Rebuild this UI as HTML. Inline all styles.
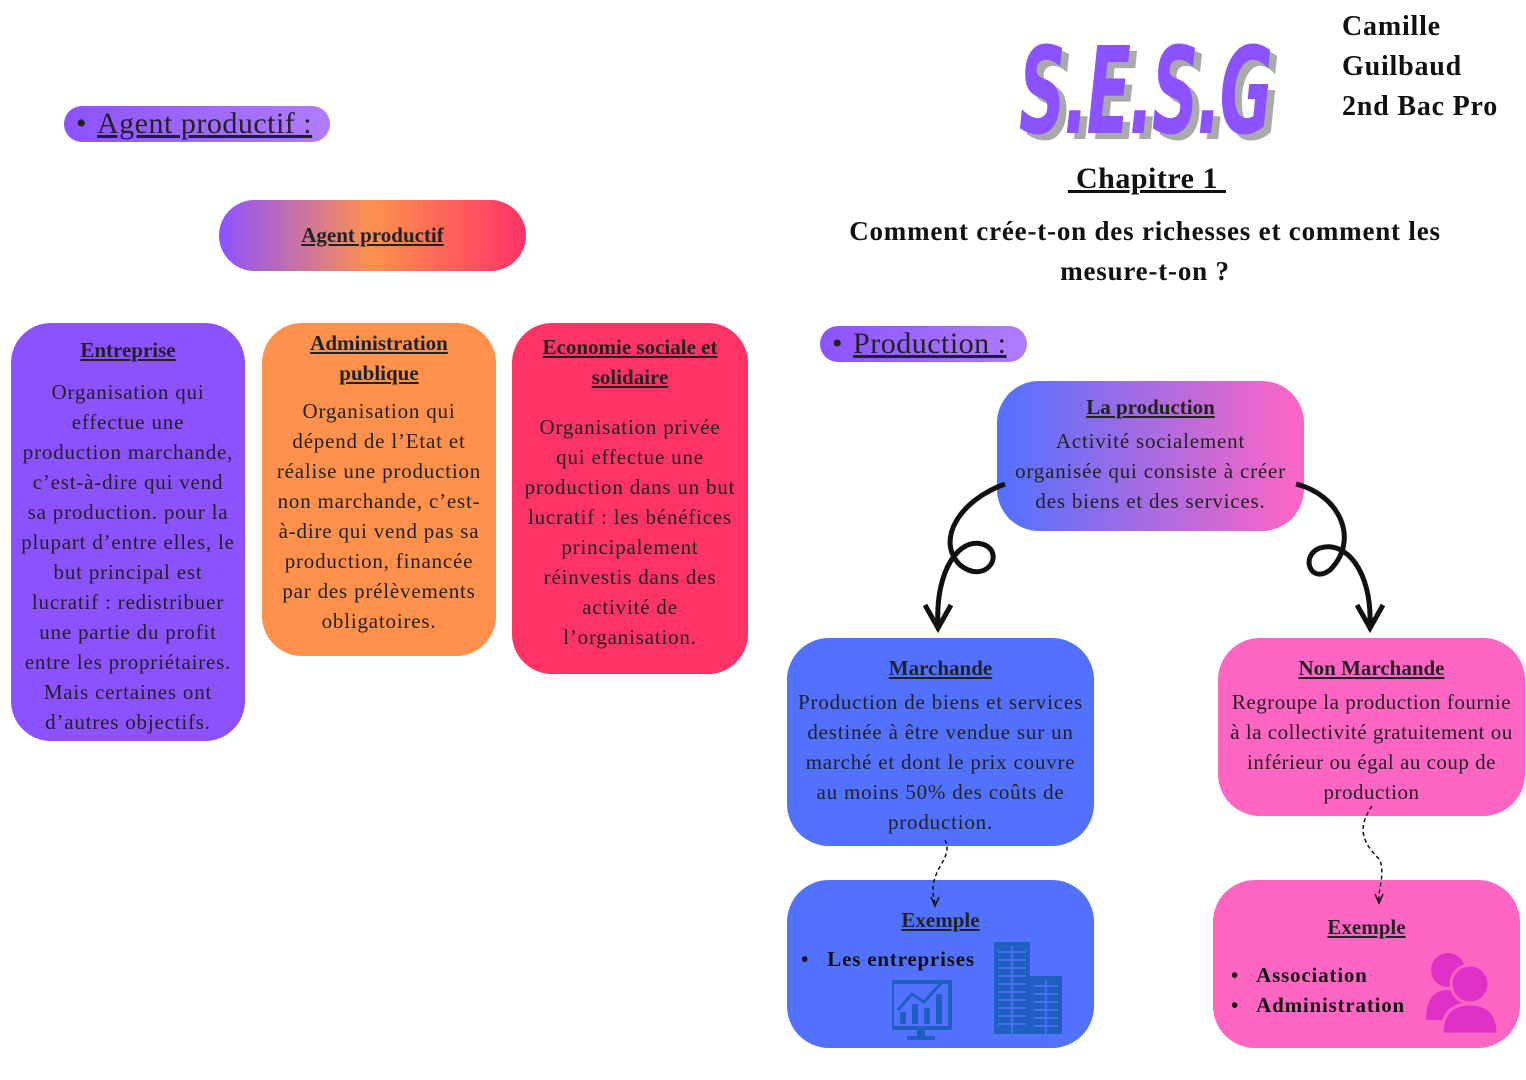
<!DOCTYPE html>
<html><head><meta charset="utf-8"><style>
body{margin:0;width:1526px;height:1080px;background:#fff;position:relative;overflow:hidden;font-family:"Liberation Serif",serif;color:#222}
.a{position:absolute}
.box{position:absolute;text-align:center;font-size:21px;line-height:30px;box-sizing:border-box;white-space:nowrap;letter-spacing:0.8px}
.t{font-weight:bold;text-decoration:underline;font-size:21px;letter-spacing:0}
.pill{position:absolute;border-radius:20px;background:linear-gradient(90deg,#8c52ff,#b07cff);font-size:30px;line-height:36px;padding-left:12px;letter-spacing:0.5px}
.pill u{margin-left:10px}
</style></head><body>
<div class="a" style="left:1026px;top:36px;font-family:'DejaVu Sans Condensed','Liberation Sans',sans-serif;font-weight:bold;font-style:italic;font-size:120px;line-height:125px;color:#aaa;letter-spacing:-3px;transform:scaleX(0.6);transform-origin:left">S.E.S.G</div>
<div class="a" style="left:1019px;top:30px;font-family:'DejaVu Sans Condensed','Liberation Sans',sans-serif;font-weight:bold;font-style:italic;font-size:120px;line-height:125px;color:#8c52ff;letter-spacing:-3px;transform:scaleX(0.6);transform-origin:left">S.E.S.G</div>
<div class="a" style="left:1342px;top:7px;font-weight:bold;font-size:28px;line-height:40px;color:#111;letter-spacing:0.8px">Camille<br>Guilbaud<br>2nd Bac Pro</div>
<div class="a" style="left:1068px;top:162px;font-weight:bold;font-size:30px;text-decoration:underline;color:#111;letter-spacing:0.5px">&nbsp;Chapitre 1&nbsp;</div>
<div class="a" style="left:800px;top:211px;width:690px;text-align:center;font-weight:bold;font-size:27px;line-height:40px;color:#111;letter-spacing:0.8px">Comment crée-t-on des richesses et comment les<br>mesure-t-on ?</div>

<div class="pill" style="left:64px;top:106px;width:254px;height:36px">•<u>Agent productif :</u></div>
<div class="pill" style="left:820px;top:326px;width:195px;height:36px">•<u>Production :</u></div>

<div class="box" style="left:219px;top:200px;width:307px;height:71px;border-radius:36px;background:linear-gradient(90deg,#8c52ff,#ff914d 50%,#ff3366);padding-top:20px"><span class="t">Agent productif</span></div>

<div class="box" style="left:11px;top:323px;width:234px;height:418px;border-radius:40px;background:#8c52ff;padding:12px 0 0"><span class="t">Entreprise</span><div style="margin-top:12px">Organisation qui<br>effectue une<br>production marchande,<br>c’est-à-dire qui vend<br>sa production. pour la<br>plupart d’entre elles, le<br>but principal est<br>lucratif : redistribuer<br>une partie du profit<br>entre les propriétaires.<br>Mais certaines ont<br>d’autres objectifs.</div></div>
<div class="box" style="left:262px;top:323px;width:234px;height:333px;border-radius:40px;background:#ff914d;padding:5px 0 0"><span class="t">Administration<br>publique</span><div style="margin-top:8px">Organisation qui<br>dépend de l’Etat et<br>réalise une production<br>non marchande, c’est-<br>à-dire qui vend pas sa<br>production, financée<br>par des prélèvements<br>obligatoires.</div></div>
<div class="box" style="left:512px;top:323px;width:236px;height:351px;border-radius:40px;background:#ff3366;padding:9px 0 0"><span class="t">Economie sociale et<br>solidaire</span><div style="margin-top:20px">Organisation privée<br>qui effectue une<br>production dans un but<br>lucratif : les bénéfices<br>principalement<br>réinvestis dans des<br>activité de<br>l’organisation.</div></div>

<div class="box" style="left:997px;top:381px;width:307px;height:150px;border-radius:42px;background:linear-gradient(90deg,#5271ff,#ff66c4);padding:11px 0 0"><span class="t">La production</span><div style="margin-top:4px">Activité socialement<br>organisée qui consiste à créer<br>des biens et des services.</div></div>

<div class="box" style="left:787px;top:638px;width:307px;height:208px;border-radius:42px;background:#5271ff;padding:15px 0 0"><span class="t">Marchande</span><div style="margin-top:4px">Production de biens et services<br>destinée à être vendue sur un<br>marché et dont le prix couvre<br>au moins 50% des coûts de<br>production.</div></div>
<div class="box" style="left:1218px;top:638px;width:307px;height:178px;border-radius:42px;background:#ff66c4;padding:15px 0 0;letter-spacing:0.5px"><span class="t">Non Marchande</span><div style="margin-top:4px">Regroupe la production fournie<br>à la collectivité gratuitement ou<br>inférieur ou égal au coup de<br>production</div></div>

<div class="box" style="left:787px;top:880px;width:307px;height:168px;border-radius:42px;background:#5271ff;padding:25px 0 0"><span class="t">Exemple</span>
<div style="position:absolute;left:14px;top:64px;font-weight:bold;font-size:21px;color:#111">•&nbsp;&nbsp; Les entreprises</div>
<svg style="position:absolute;left:105px;top:62px" width="180" height="100"><g fill="#1f5fbf"><rect x="0" y="40" width="58" height="46" fill="none" stroke="#1f5fbf" stroke-width="4"/><rect x="25" y="86" width="8" height="8"/><rect x="15" y="94" width="28" height="4"/><rect x="8" y="70" width="6" height="12"/><rect x="20" y="62" width="6" height="20"/><rect x="32" y="66" width="6" height="16"/><rect x="44" y="52" width="6" height="30"/><polyline points="6,68 20,52 32,60 52,38" fill="none" stroke="#1f5fbf" stroke-width="3"/><rect x="102" y="0" width="36" height="92"/><rect x="138" y="34" width="32" height="58"/></g><g stroke="#5271ff" stroke-width="1.5"><path d="M106 10h28M106 18h28M106 26h28M106 34h28M106 42h28M106 50h28M106 58h28M106 66h28M106 74h28M106 82h28M142 44h24M142 52h24M142 60h24M142 68h24M142 76h24M142 84h24M120 4v88M154 38v54"/></g></svg></div>
<div class="box" style="left:1213px;top:880px;width:307px;height:168px;border-radius:42px;background:#ff66c4;padding:32px 0 0"><span class="t">Exemple</span>
<div style="position:absolute;left:18px;top:80px;font-weight:bold;font-size:21px;line-height:30px;color:#111;text-align:left">•&nbsp;&nbsp; Association<br>•&nbsp;&nbsp; Administration</div>
<svg style="position:absolute;left:205px;top:68px" width="90" height="90"><g fill="#e030c8"><circle cx="30" cy="22" r="17"/><path d="M8 72 Q8 42 30 42 Q52 42 52 72Z"/><circle cx="52" cy="36" r="19" stroke="#ff66c4" stroke-width="3"/><path d="M24 86 Q24 56 52 56 Q80 56 80 86Z" stroke="#ff66c4" stroke-width="3"/></g></svg></div>

<svg class="a" style="left:0;top:0" width="1526" height="1080" fill="none" stroke="#111">
<path d="M1005 484 C960 500 935 540 960 565 C985 585 1005 555 985 545 C960 535 935 570 938 625" stroke-width="5"/>
<path d="M925 605 L938 628 L951 605" stroke-width="5"/>
<path d="M1296 484 C1340 495 1360 540 1330 570 C1310 585 1300 555 1320 548 C1345 540 1372 570 1370 625" stroke-width="5"/>
<path d="M1357 605 L1370 628 L1383 605" stroke-width="5"/>
<path d="M945 840 C955 860 925 870 935 903" stroke-width="1.5" stroke-dasharray="4 3"/>
<path d="M931 897 L935 906 L939 897" stroke-width="1.5"/>
<path d="M1372 806 C1355 830 1365 845 1380 860 C1385 875 1378 890 1379 900" stroke-width="1.5" stroke-dasharray="4 3"/>
<path d="M1375 894 L1379 903 L1383 894" stroke-width="1.5"/>
</svg>
</body></html>
